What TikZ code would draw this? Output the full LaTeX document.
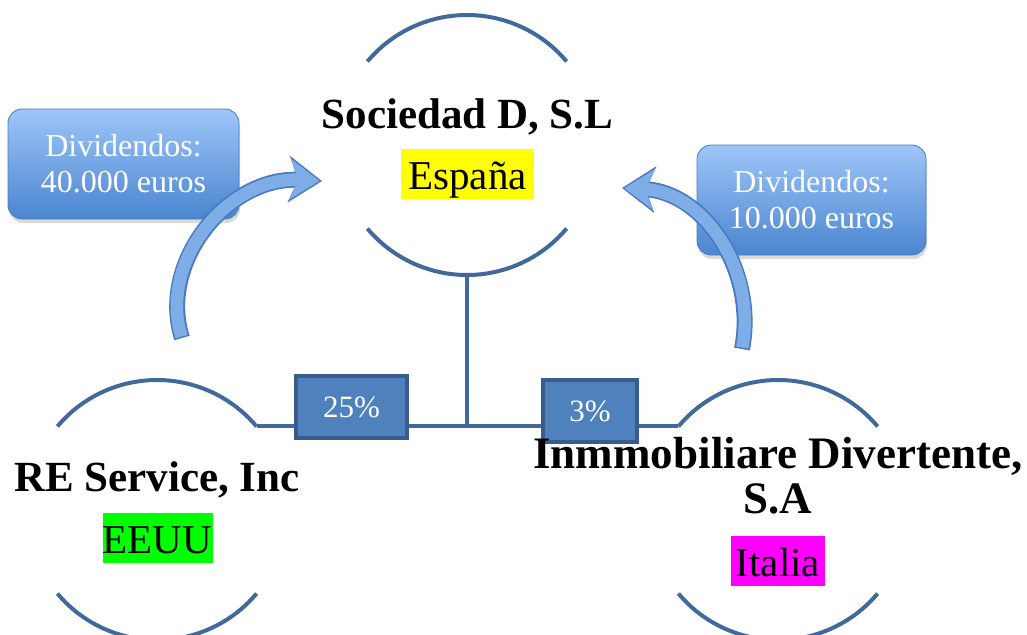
\documentclass[tikz,border=0pt]{standalone}
\usepackage{fontspec}
\setmainfont{Liberation Serif}
\usetikzlibrary{arrows.meta,shadows}
\definecolor{lineblue}{HTML}{41699B}
\definecolor{pctfill}{HTML}{4F81BD}
\definecolor{pctdraw}{HTML}{385D8A}
\definecolor{divtop}{HTML}{9EC5F8}
\definecolor{divbot}{HTML}{4A86D0}
\definecolor{divdraw}{HTML}{4A7EBB}
\definecolor{arrowfill}{HTML}{7EADE8}
\definecolor{arrowdraw}{HTML}{4A7BBF}
\definecolor{hlyellow}{HTML}{FFFF00}
\definecolor{hlgreen}{HTML}{00FF00}
\definecolor{hlmagenta}{HTML}{FF00FF}
\begin{document}
\begin{tikzpicture}[x=1pt,y=-1pt,
  arcline/.style={draw=lineblue,line width=4pt},
  pctbox/.style={draw=pctdraw,fill=pctfill,line width=4pt,text=white,font=\fontsize{31}{34}\selectfont,inner sep=0pt},
  divbox/.style={rounded corners=14pt,draw=divdraw,line width=0.8pt,top color=divtop,bottom color=divbot,text=white,font=\fontsize{32}{36}\selectfont,align=center,inner sep=0pt,drop shadow={opacity=0.3,shadow xshift=1pt,shadow yshift=-4pt}},
  title/.style={font=\bfseries\fontsize{43}{45}\selectfont,align=center,inner sep=0pt},
  country/.style={font=\fontsize{41}{46}\selectfont,inner xsep=0pt,inner ysep=0pt,text height=40pt,text depth=10pt},
  arrowout/.style={draw=arrowdraw,line width=16pt,-{Stealth[length=33pt,width=46pt,inset=9pt]}},
  arrowin/.style={draw=arrowfill,line width=12.5pt,shorten >=2.5pt,shorten <=1.5pt,-{Stealth[length=29pt,width=40pt,inset=8pt]}},
]
\useasboundingbox (0,0) rectangle (1027,634);
\clip (0,0) rectangle (1027,634);

% circle centres
\coordinate (ctop) at (467,145);
\coordinate (cleft) at (157,510);
\coordinate (cright) at (778,510);

% arcs
\draw[arcline] (ctop) ++(-140:130) arc[start angle=-140,end angle=-40,radius=130];
\draw[arcline] (ctop) ++(140:130) arc[start angle=140,end angle=40,radius=130];
\draw[arcline] (cleft) ++(-140:130) arc[start angle=-140,end angle=-40,radius=130];
\draw[arcline] (cleft) ++(140:130) arc[start angle=140,end angle=40,radius=130];
\draw[arcline] (cright) ++(-140:130) arc[start angle=-140,end angle=-40,radius=130];
\draw[arcline] (cright) ++(140:130) arc[start angle=140,end angle=40,radius=130];

% connectors
\coordinate (topbot) at (467,275);
\coordinate (junc) at (467,427);
\path (cleft) ++(-40:130) coordinate (lend);
\path (cright) ++(-140:130) coordinate (rend);
\draw[arcline] (topbot) -- (junc);
\draw[arcline] (lend) -- (rend);

% percentage boxes
\node[pctbox,minimum width=111pt,minimum height=62pt] (p25) at (351.5,407) {25\%};
\node[pctbox,minimum width=94pt,minimum height=62pt] (p3) at (590,411) {3\%};

% dividend boxes
\node[divbox,minimum width=231pt,minimum height=110pt] (dleft) at (123.5,164) {Dividendos:\\40.000 euros};
\node[divbox,minimum width=229pt,minimum height=110pt] (dright) at (811.5,200) {Dividendos:\\10.000 euros};

% curved arrows
\coordinate (la0) at (182,338);
\coordinate (la1) at (322,181);
\coordinate (ra0) at (742,349);
\coordinate (ra1) at (622,188);
\draw[arrowout] (la0) .. controls (158,262) and (228,176) .. (la1);
\draw[arrowin] (la0) .. controls (158,262) and (228,176) .. (la1);
\draw[arrowout] (ra0) .. controls (757,272) and (705,192) .. (ra1);
\draw[arrowin] (ra0) .. controls (757,272) and (705,192) .. (ra1);

% titles
\node[title,anchor=base] (tsoc) at (467.5,128) {Sociedad D, S.L};
\node[title,anchor=base] (tre) at (157,491) {RE Service, Inc};
\node[title,font=\bfseries\fontsize{45}{45}\selectfont] (tinm) at (778,475.5) {Inmmobiliare Divertente,\\S.A};

% countries
\node[country,fill=hlyellow,minimum width=133pt] (cesp) at (467.5,174) {España};
\node[country,fill=hlgreen,minimum width=110pt] (ceeuu) at (157.5,538) {EEUU};
\node[country,fill=hlmagenta,minimum width=94pt] (cita) at (778,561) {Italia};
\end{tikzpicture}
\end{document}
